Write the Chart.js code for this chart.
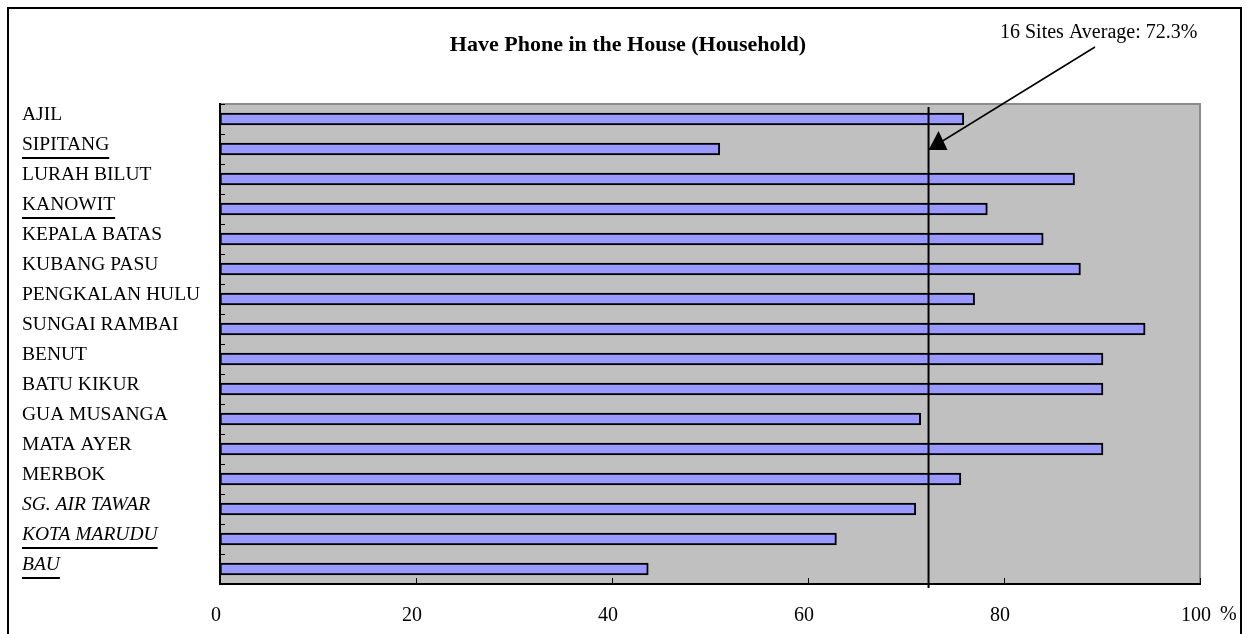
<!DOCTYPE html>
<html>
<head>
<meta charset="utf-8">
<title>Have Phone in the House (Household)</title>
<script src="https://cdn.jsdelivr.net/npm/chart.js@4/dist/chart.umd.min.js"></script>
<style>
  html, body { margin: 0; padding: 0; background: #fff; }
  canvas { display: block; }
</style>
</head>
<body>
<canvas id="chart" width="1247" height="634"></canvas>
<script>
// Survey sites, top to bottom
const sites = ['AJIL', 'SIPITANG', 'LURAH BILUT', 'KANOWIT', 'KEPALA BATAS', 'KUBANG PASU',
  'PENGKALAN HULU', 'SUNGAI RAMBAI', 'BENUT', 'BATU KIKUR', 'GUA MUSANGA', 'MATA AYER',
  'MERBOK', 'SG. AIR TAWAR', 'KOTA MARUDU', 'BAU'];
// Share of households with a phone in the house (%)
const phoneShare = [75.9, 51.0, 87.2, 78.3, 84.0, 87.8, 77.0, 94.4, 90.1, 90.1, 71.5, 90.1,
  75.6, 71.0, 62.9, 43.7];
// Sites set in italics / underlined in the axis labels
const italicSites = ['SG. AIR TAWAR', 'KOTA MARUDU', 'BAU'];
const underlinedSites = ['SIPITANG', 'KANOWIT', 'KOTA MARUDU', 'BAU'];
// Mean over all sites (%)
const siteAverage = 72.3;
// Value axis ticks
const axisTicks = [0, 20, 40, 60, 80, 100];

const chartTitle = 'Have Phone in the House (Household)';
const averageNote = sites.length + ' Sites Average: ' + siteAverage + '%';
const SERIF = "'Liberation Serif', 'Times New Roman', Times, serif";

const decorations = {
  id: 'decorations',
  beforeDraw(chart) {
    const { ctx, chartArea: a } = chart;
    ctx.save();
    ctx.fillStyle = '#ffffff';
    ctx.fillRect(0, 0, chart.width, chart.height);
    // plot background
    ctx.fillStyle = '#c0c0c0';
    ctx.fillRect(a.left, a.top, a.right - a.left, a.bottom - a.top);
    // grey top and right edges of the plot
    ctx.strokeStyle = '#8c8c8c';
    ctx.lineWidth = 2;
    ctx.beginPath();
    ctx.moveTo(a.left, a.top);
    ctx.lineTo(a.right, a.top);
    ctx.lineTo(a.right, a.bottom);
    ctx.stroke();
    // outer frame
    ctx.strokeStyle = '#000';
    ctx.lineWidth = 2;
    ctx.strokeRect(8, 8, 1233, 700);
    ctx.restore();
  },
  afterDatasetsDraw(chart) {
    const { ctx, chartArea: a, scales: { x, y } } = chart;
    ctx.save();
    ctx.strokeStyle = '#000';
    ctx.lineWidth = 1;
    // inward tick marks on the category axis, at band boundaries
    const half = (y.getPixelForValue(1) - y.getPixelForValue(0)) / 2;
    ctx.beginPath();
    for (let i = 0; i <= sites.length; i++) {
      const py = Math.round(y.getPixelForValue(i) - half) + 0.5;
      ctx.moveTo(a.left, py);
      ctx.lineTo(a.left + 5, py);
    }
    // inward tick marks on the value axis
    axisTicks.forEach(v => {
      const px = Math.round(x.getPixelForValue(v)) + 0.5;
      ctx.moveTo(px, a.bottom - 6);
      ctx.lineTo(px, a.bottom);
    });
    ctx.stroke();
    // average reference line
    const ax = x.getPixelForValue(siteAverage);
    ctx.lineWidth = 2;
    ctx.beginPath();
    ctx.moveTo(ax, a.top + 3);
    ctx.lineTo(ax, a.bottom + 4);
    ctx.stroke();
    ctx.restore();
  },
  afterDraw(chart) {
    const { ctx, chartArea: a, scales: { x, y } } = chart;
    ctx.save();
    ctx.fillStyle = '#000';
    ctx.strokeStyle = '#000';
    // title
    ctx.font = 'bold 22px ' + SERIF;
    ctx.textAlign = 'center';
    ctx.textBaseline = 'middle';
    ctx.fillText(chartTitle, 628, 45);
    // average note with arrow
    ctx.font = '20px ' + SERIF;
    ctx.textAlign = 'left';
    ctx.fillText(averageNote, 1000, 33);
    const ax = x.getPixelForValue(siteAverage);
    ctx.lineWidth = 1.5;
    ctx.beginPath();
    ctx.moveTo(1095, 47);
    ctx.lineTo(ax + 14, 141);
    ctx.stroke();
    ctx.beginPath();
    ctx.moveTo(ax + 10, 131);
    ctx.lineTo(ax + 19, 150);
    ctx.lineTo(ax, 150);
    ctx.closePath();
    ctx.fill();
    // unit after the value axis
    ctx.font = '20px ' + SERIF;
    ctx.textAlign = 'left';
    ctx.fillText('%', 1220, 615);
    // underlined site names
    sites.forEach((name, i) => {
      if (!underlinedSites.includes(name)) return;
      const style = italicSites.includes(name) ? 'italic ' : '';
      ctx.font = style + '19.5px ' + SERIF;
      const w = ctx.measureText(name).width;
      const py = y.getPixelForValue(i) + 8;
      ctx.fillRect(y.left, py, w, 2);
    });
    ctx.restore();
  }
};

new Chart(document.getElementById('chart'), {
  type: 'bar',
  data: {
    labels: sites,
    datasets: [{
      data: phoneShare,
      backgroundColor: '#9999ff',
      borderColor: '#000',
      borderWidth: 2,
      borderSkipped: false,
      barThickness: 12
    }]
  },
  options: {
    indexAxis: 'y',
    responsive: false,
    animation: false,
    devicePixelRatio: 1,
    layout: { padding: { left: 22, right: 47, top: 104, bottom: 0 } },
    plugins: {
      legend: { display: false },
      tooltip: { enabled: false },
      title: { display: false }
    },
    scales: {
      x: {
        min: 0,
        max: 100,
        afterBuildTicks: s => { s.ticks = axisTicks.map(v => ({ value: v })); },
        grid: { display: false, drawTicks: false },
        border: { display: true, color: '#000', width: 2 },
        ticks: {
          color: '#000',
          font: { family: SERIF, size: 20 },
          padding: 20,
          labelOffset: -4,
          maxRotation: 0,
          autoSkip: false
        },
        afterFit: s => { s.height = 50; }
      },
      y: {
        grid: { display: false, drawTicks: false },
        border: { display: true, color: '#000', width: 2 },
        ticks: {
          color: '#000',
          crossAlign: 'far',
          labelOffset: -4,
          autoSkip: false,
          font: ctx => ({
            family: SERIF,
            size: 19.5,
            style: italicSites.includes(sites[ctx.index]) ? 'italic' : 'normal'
          })
        },
        afterFit: s => { s.width = 198; }
      }
    }
  },
  plugins: [decorations]
});
</script>
</body>
</html>
